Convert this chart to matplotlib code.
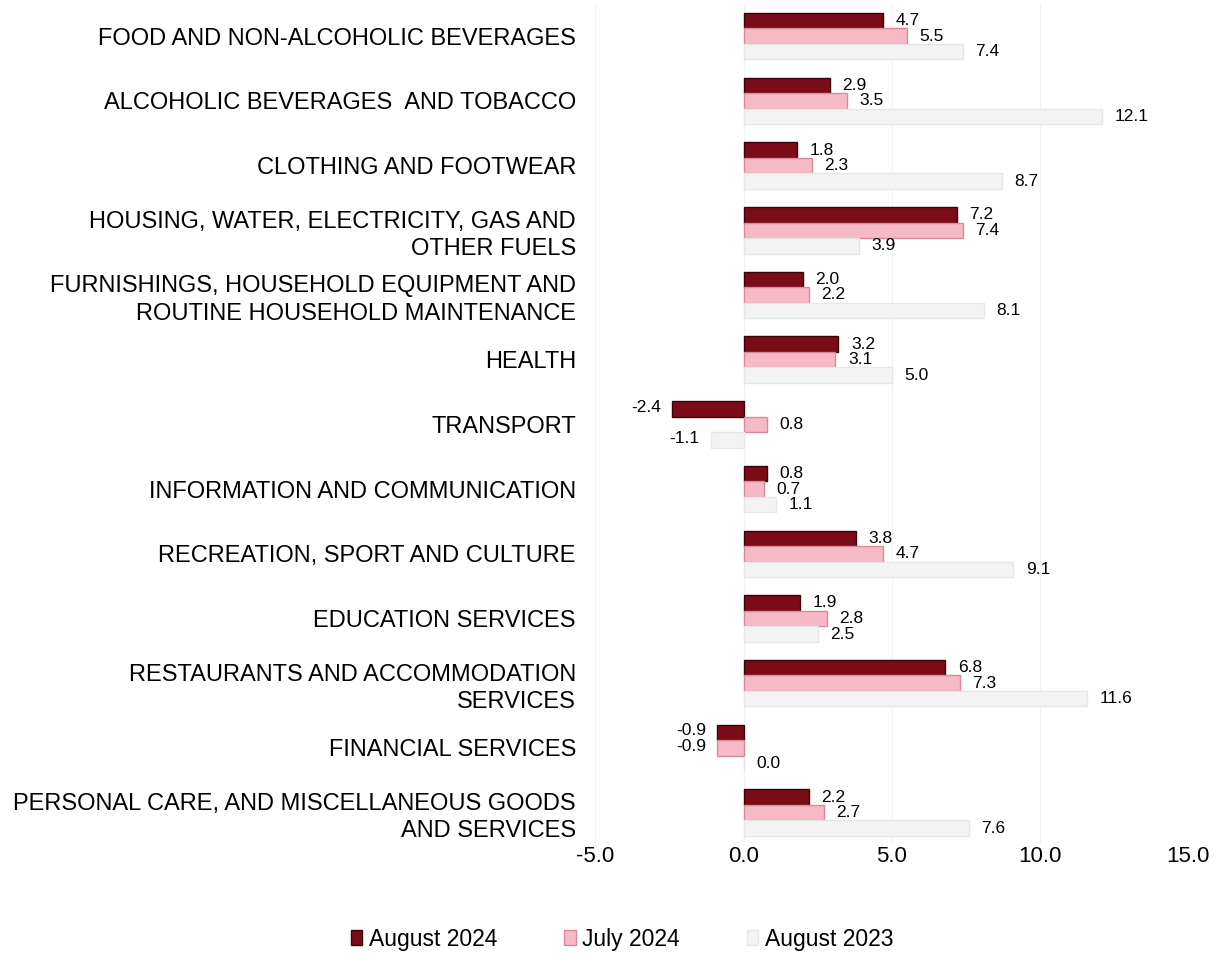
import numpy as np
import matplotlib
matplotlib.use("Agg")
import matplotlib.pyplot as plt

plt.rcParams['font.family'] = ['Liberation Sans', 'DejaVu Sans']

categories = [
    "FOOD AND NON-ALCOHOLIC BEVERAGES",
    "ALCOHOLIC BEVERAGES  AND TOBACCO",
    "CLOTHING AND FOOTWEAR",
    "HOUSING, WATER, ELECTRICITY, GAS AND\nOTHER FUELS",
    "FURNISHINGS, HOUSEHOLD EQUIPMENT AND\nROUTINE HOUSEHOLD MAINTENANCE",
    "HEALTH",
    "TRANSPORT",
    "INFORMATION AND COMMUNICATION",
    "RECREATION, SPORT AND CULTURE",
    "EDUCATION SERVICES",
    "RESTAURANTS AND ACCOMMODATION\nSERVICES",
    "FINANCIAL SERVICES",
    "PERSONAL CARE, AND MISCELLANEOUS GOODS\nAND SERVICES",
]
aug_2024 = [4.7, 2.9, 1.8, 7.2, 2.0, 3.2, -2.4, 0.8, 3.8, 1.9, 6.8, -0.9, 2.2]
jul_2024 = [5.5, 3.5, 2.3, 7.4, 2.2, 3.1, 0.8, 0.7, 4.7, 2.8, 7.3, -0.9, 2.7]
aug_2023 = [7.4, 12.1, 8.7, 3.9, 8.1, 5.0, -1.1, 1.1, 9.1, 2.5, 11.6, 0.0, 7.6]
series_names = ["August 2024", "July 2024", "August 2023"]
xticks = [-5.0, 0.0, 5.0, 10.0, 15.0]

faces = ["#7b0c17", "#f6b9c6", "#f3f3f3"]
edges = ["#3a0408", "#d98a9a", "#e6e6e6"]

fig = plt.figure(figsize=(12.2, 9.58), dpi=100)
ax = fig.add_axes([0.488, 0.118, 0.486, 0.878])

y = np.arange(len(categories))
h = 0.24
for k, vals in enumerate([aug_2024, jul_2024, aug_2023]):
    pos = y + (k - 1) * h
    ax.barh(pos, vals, height=h, color=faces[k], edgecolor=edges[k],
            linewidth=1.0, label=series_names[k])
    for p, v in zip(pos, vals):
        if v < 0:
            ax.annotate(f"{v:.1f}", (v, p), xytext=(-8, 1), textcoords="offset points",
                        ha="right", va="center", fontsize=12.5)
        else:
            ax.annotate(f"{v:.1f}", (v, p), xytext=(9, 0), textcoords="offset points",
                        ha="left", va="center", fontsize=12.5)

ax.set_ylim(len(categories) - 0.5, -0.5)
ax.set_xlim(-5, 15)
ax.set_xticks(xticks)
ax.set_xticklabels([f"{t:.1f}" for t in xticks], fontsize=16)
ax.set_yticks(y)
ax.set_yticklabels(categories, fontsize=17, linespacing=1.3)
ax.tick_params(axis='both', length=0)
ax.tick_params(axis='y', pad=14)
ax.tick_params(axis='x', pad=1)
for s in ax.spines.values():
    s.set_visible(False)
ax.xaxis.grid(True, color="#f2f2f2", linewidth=0.8)
ax.set_axisbelow(True)

fig.legend(loc="lower center", bbox_to_anchor=(0.51, -0.014), ncol=3, frameon=False,
           fontsize=16.5, handlelength=0.5, handleheight=0.6, handletextpad=0.3,
           columnspacing=2.9)

fig.savefig("out.png", dpi=100)
